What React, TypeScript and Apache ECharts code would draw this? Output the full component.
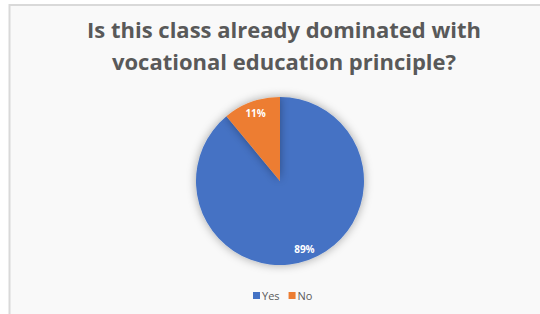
import React, { useEffect, useRef } from "react";
import * as echarts from "echarts";

const titleLines = ["Is this class already dominated with", "vocational education principle?"];
const categories = ["Yes", "No"];
const values = [89, 11];
const colors = ["#4472C4", "#ED7D31"];

export default function App() {
  const ref = useRef<HTMLDivElement>(null);
  useEffect(() => {
    const chart = echarts.init(ref.current!, null, { renderer: "svg" });
    const data = categories.map((c, i) => ({ name: c, value: values[i], itemStyle: { color: colors[i] } }));
    chart.setOption({
      animation: false,
      backgroundColor: "#ffffff",
      graphic: [
        {
          type: "rect",
          z: -10,
          shape: { x: 9.5, y: 5, width: 560, height: 340 },
          style: { fill: "#f9f9f9", stroke: "#d9d9d9", lineWidth: 2 },
        },
      ],
      title: {
        text: titleLines.join("\n"),
        left: 279,
        textAlign: "center",
        top: 8,
        textStyle: {
          fontFamily: "Open Sans",
          fontWeight: "bold",
          fontSize: 22,
          lineHeight: 32,
          color: "#595959",
        },
      },
      legend: {
        data: categories,
        left: 248,
        top: 285,
        icon: "rect",
        itemWidth: 7,
        itemHeight: 7,
        itemGap: 9,
        textStyle: { fontFamily: "Open Sans", fontSize: 11, color: "#595959", padding: [0, 0, 0, -3] },
      },
      series: [
        {
          type: "pie",
          center: [280, 181],
          radius: 84,
          startAngle: 90,
          clockwise: true,
          label: { show: false },
          labelLine: { show: false },
          itemStyle: { shadowBlur: 10, shadowColor: "rgba(0,0,0,0.35)" },
          data,
        },
        {
          type: "pie",
          center: [280, 181],
          radius: [55, 83],
          startAngle: 90,
          clockwise: true,
          silent: true,
          itemStyle: { color: "rgba(0,0,0,0)" },
          label: {
            show: true,
            position: "inside",
            color: "#ffffff",
            fontFamily: "Open Sans",
            fontWeight: "bold",
            fontSize: 10,
            formatter: (p: any) => Math.round(p.percent) + "%",
          },
          labelLine: { show: false },
          data: categories.map((c, i) => ({ name: c, value: values[i] })),
        },
      ],
    });
    return () => chart.dispose();
  }, []);
  return <div ref={ref} style={{ position: "absolute", left: 0, top: 0, width: 540, height: 314 }} />;
}
